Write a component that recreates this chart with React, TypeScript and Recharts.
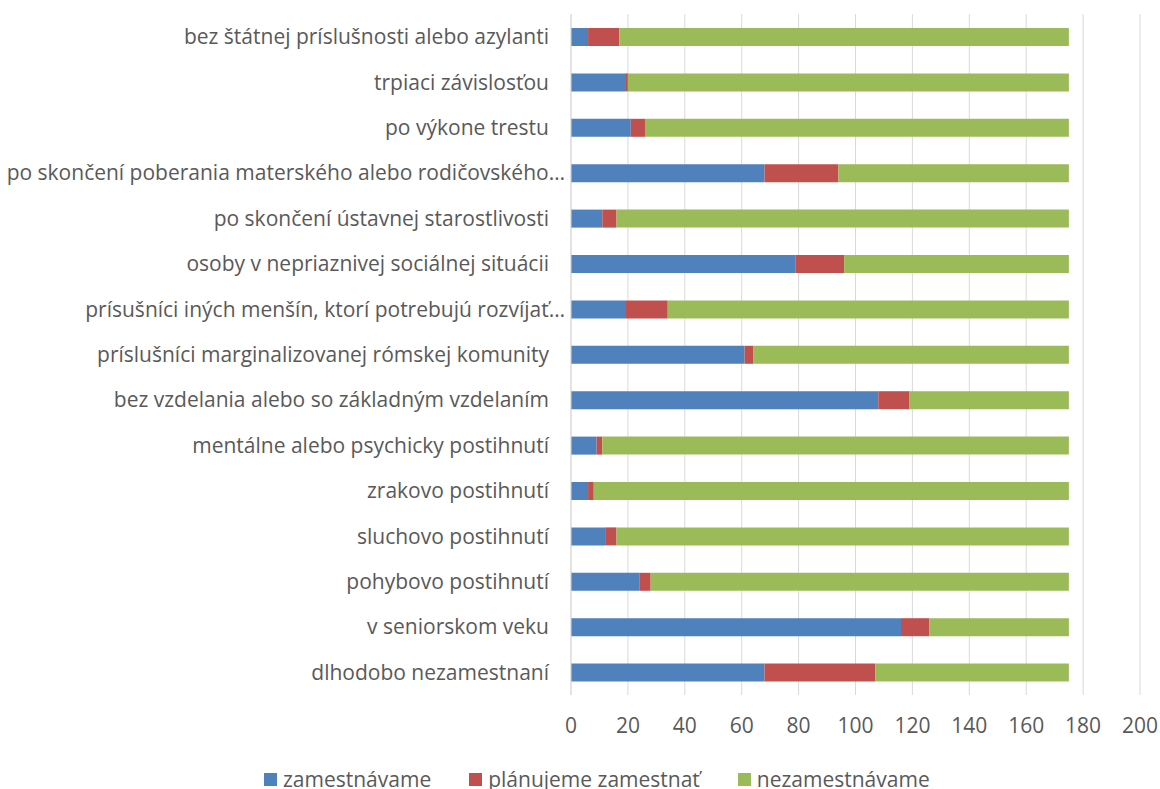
import React from 'react';
import { BarChart, Bar, XAxis, YAxis, CartesianGrid, Legend } from 'recharts';

const categories = [
  'bez štátnej príslušnosti alebo azylanti',
  'trpiaci závislosťou',
  'po výkone trestu',
  'po skončení poberania materského alebo rodičovského…',
  'po skončení ústavnej starostlivosti',
  'osoby v nepriaznivej sociálnej situácii',
  'prísušníci iných menšín, ktorí potrebujú rozvíjať…',
  'príslušníci marginalizovanej rómskej komunity',
  'bez vzdelania alebo so základným vzdelaním',
  'mentálne alebo psychicky postihnutí',
  'zrakovo postihnutí',
  'sluchovo postihnutí',
  'pohybovo postihnutí',
  'v seniorskom veku',
  'dlhodobo nezamestnaní',
];

const zamestnavame = [6, 19, 21, 68, 11, 79, 19, 61, 108, 9, 6, 12, 24, 116, 68];
const planujemeZamestnat = [11, 1, 5, 26, 5, 17, 15, 3, 11, 2, 2, 4, 4, 10, 39];
const nezamestnavame = [158, 155, 149, 81, 159, 79, 141, 111, 56, 164, 167, 159, 147, 49, 68];

const xTicks = [0, 20, 40, 60, 80, 100, 120, 140, 160, 180, 200];

const seriesNames = ['zamestnávame', 'plánujeme zamestnať', 'nezamestnávame'];
const seriesKeys = ['zam', 'plan', 'nezam'];
const seriesColors = ['#4f81bd', '#c0504d', '#9bbb59'];

const data = categories.map((name, i) => ({
  name,
  zam: zamestnavame[i],
  plan: planujemeZamestnat[i],
  nezam: nezamestnavame[i],
}));

const FONT = '"Open Sans", sans-serif';
const TEXT = '#595959';

const CategoryTick = (props: any) => {
  const { x, y, payload } = props;
  const label: string = payload.value;
  const offset = label.endsWith('…') ? 6 : 22;
  return (
    <text
      x={x - offset}
      y={y}
      dy="0.355em"
      textAnchor="end"
      fill={TEXT}
      fontFamily={FONT}
      fontSize={21}
    >
      {label}
    </text>
  );
};

const renderLegend = () => (
  <div style={{ position: 'relative', height: 44, width: 1160 }}>
    <div
      style={{
        position: 'absolute',
        top: 24,
        left: 264,
        display: 'flex',
        alignItems: 'center',
        height: 20,
        lineHeight: '20px',
        fontFamily: FONT,
        fontSize: 21,
        color: TEXT,
        whiteSpace: 'nowrap',
      }}
    >
      {seriesNames.map((n, i) => (
        <div key={n} style={{ display: 'flex', alignItems: 'center', marginRight: 38, height: 20 }}>
          <span
            style={{
              display: 'inline-block',
              width: 13,
              height: 13,
              background: seriesColors[i],
              marginRight: 6,
            }}
          />
          <span style={{ lineHeight: '20px' }}>{n}</span>
        </div>
      ))}
    </div>
  </div>
);

export default function App() {
  return (
    <div style={{ position: 'absolute', left: 0, top: 0, width: 1160, height: 789, background: '#fff' }}>
      <BarChart
        width={1160}
        height={789}
        data={data}
        layout="vertical"
        margin={{ top: 14, right: 20, bottom: 0, left: 0 }}
        barSize={18}
      >
        <CartesianGrid horizontal={false} vertical={true} stroke="#d9d9d9" strokeWidth={1} />
        <XAxis
          type="number"
          domain={[0, 200]}
          ticks={xTicks}
          interval={0}
          axisLine={false}
          tickLine={false}
          tickSize={0}
          tickMargin={23}
          height={50}
          tick={{ fill: TEXT, fontFamily: FONT, fontSize: 21 }}
        />
        <YAxis
          type="category"
          dataKey="name"
          width={571}
          interval={0}
          axisLine={{ stroke: '#d9d9d9' }}
          tickLine={false}
          tickSize={0}
          tickMargin={0}
          tick={<CategoryTick />}
        />
        <Legend
          verticalAlign="bottom"
          align="left"
          height={44}
          wrapperStyle={{ height: 44, left: 0, width: 1160 }}
          content={renderLegend}
        />
        {seriesKeys.map((k, i) => (
          <Bar
            key={k}
            dataKey={k}
            name={seriesNames[i]}
            stackId="a"
            fill={seriesColors[i]}
            isAnimationActive={false}
          />
        ))}
      </BarChart>
    </div>
  );
}
